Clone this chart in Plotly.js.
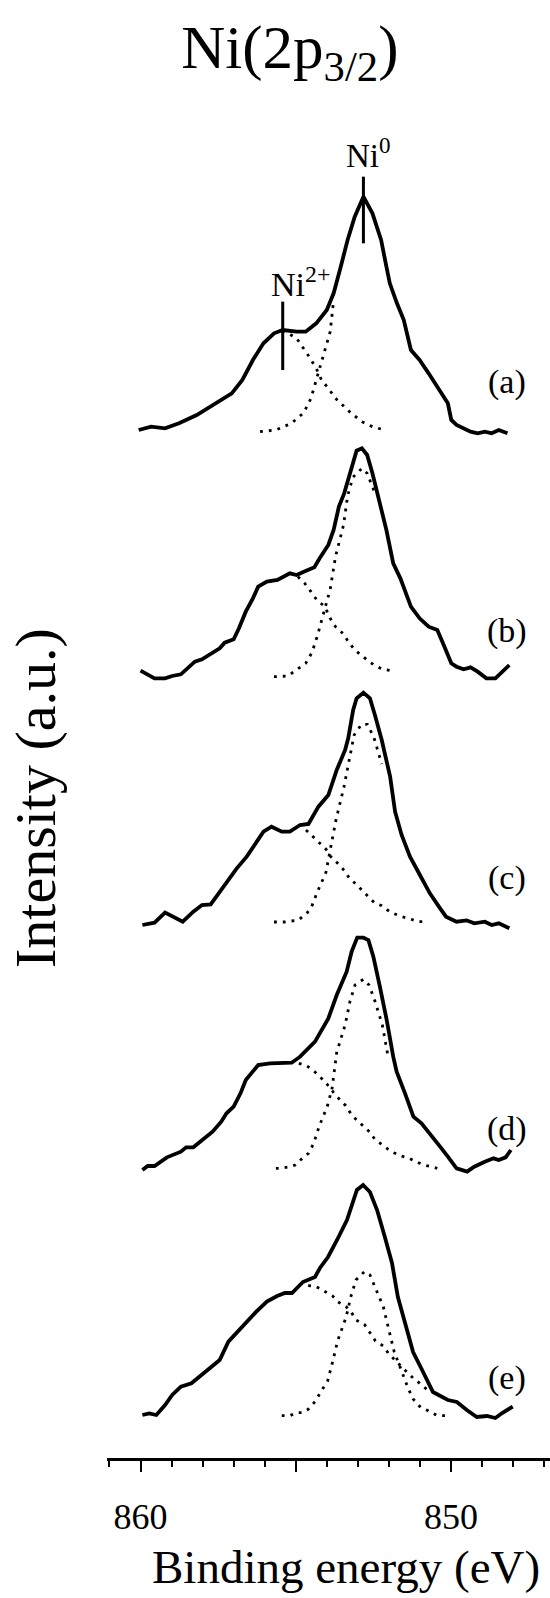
<!DOCTYPE html>
<html>
<head>
<meta charset="utf-8">
<script src="https://cdn.plot.ly/plotly-3.0.1.min.js"></script>
<style>
  html, body { margin: 0; padding: 0; background: #fff; }
  #chart { width: 550px; height: 1598px; }
</style>
</head>
<body>
<div id="chart"></div>
<script>
// Ni 2p3/2 XPS spectra (a)-(e): measured envelope plus the two fitted components.
// Binding energy in eV, intensity in arbitrary units above each spectrum's own baseline.

const panelLabels = ['(a)', '(b)', '(c)', '(d)', '(e)'];
const stackOffsets = [307.4, 233.9, 160.8, 86.4, 12.6];
const labelEnergy = 848.21;
const labelIntensity = [15.5, 14.3, 13.1, 12.2, 11.3];

// (a)
const aEnergy = [860.06,859.66,859.21,858.76,858.19,857.51,857.06,856.72,856.38,856.04,855.70,855.42,854.97,854.68,854.34,854.00,853.78,853.55,853.33,853.10,852.82,852.53,852.25,852.08,851.97,851.74,851.52,851.29,851.01,850.72,850.38,850.10,849.99,849.82,849.37,849.14,848.91,848.69,848.46,848.18];
const aIntensity = [1.0,2.0,1.5,3.0,5.5,9.5,12.0,16.0,22.0,27.0,30.0,31.0,30.5,30.5,33.0,37.0,42.0,50.0,58.0,65.0,71.0,66.0,58.0,50.0,45.0,39.0,34.0,25.0,22.0,18.0,13.0,9.0,4.0,2.5,0.5,0,0.5,0,1.0,0];
const aNi0Energy = [856.15,855.64,855.14,854.74,854.51,854.34,854.12,853.89,853.78];
const aNi0Intensity = [0.5,1.0,3.0,6.2,10.5,16.0,22.5,30.5,40.0];
const aNi2Energy = [855.42,854.97,854.57,854.34,854.17,853.95,853.72,853.50,853.21,852.87,852.53,852.14];
const aNi2Intensity = [31.0,28.5,23.0,19.5,16.0,13.5,10.5,8.5,6.0,3.5,2.0,1.0];

// (b)
const bEnergy = [860.00,859.55,859.21,858.98,858.70,858.53,858.25,858.02,857.74,857.45,857.29,857.00,856.83,856.61,856.38,856.21,855.93,855.59,855.19,854.97,854.74,854.40,854.23,853.95,853.78,853.61,853.44,853.21,853.04,852.87,852.70,852.53,852.31,852.08,851.86,851.63,851.29,851.01,850.72,850.44,850.21,849.99,849.82,849.59,849.37,849.14,848.86,848.57,848.12];
const bIntensity = [2.3,0,0,0.7,1.2,2.5,5.0,5.7,7.2,9.0,10.7,11.7,15.0,20.0,24.0,27.5,29.0,29.5,31.5,31.0,32.0,33.3,36.0,40.0,44.5,51.5,55.5,62.5,68.3,69.0,67.0,61.5,53.0,44.5,34.5,30.0,21.5,18.0,15.5,14.5,9.5,4.5,3.5,2.7,3.3,2.0,0,0,4.0];
const bNi0Energy = [855.70,855.48,855.25,854.91,854.68,854.48,854.31,853.89,853.72,853.46,853.33,853.16,852.87,852.70,852.48];
const bNi0Intensity = [0.5,0.5,0.7,3.0,4.5,7.7,12.5,26.7,36.5,46.0,54.7,60.3,63.0,61.5,56.3];
const bNi2Energy = [854.93,854.71,854.51,854.32,854.06,853.89,853.72,853.46,853.33,853.10,852.70,852.48,852.19,851.91];
const bNi2Intensity = [30.5,28.5,26.0,23.5,21.5,18.0,15.5,13.3,11.3,8.5,5.5,4.0,2.7,2.3];

// (c)
const cEnergy = [859.94,859.55,859.21,858.98,858.64,858.30,858.02,857.74,857.49,857.23,856.90,856.58,856.31,856.04,855.78,855.45,855.19,854.86,854.59,854.27,853.95,853.68,853.41,853.31,853.15,853.04,852.82,852.61,852.45,852.23,851.96,851.80,851.59,851.32,851.00,850.68,850.35,850.16,849.82,849.50,849.25,848.91,848.69,848.46,848.12];
const cIntensity = [-0.9,-0.2,2.8,1.6,0.1,3.1,5.1,5.3,8.6,12.1,16.1,19.6,23.6,27.1,28.6,27.1,27.1,29.1,29.4,34.6,38.1,45.6,51.6,55.1,63.6,67.1,68.8,67.1,62.1,54.6,43.6,33.1,26.1,19.6,14.1,8.6,4.1,1.6,0.1,0.5,-0.4,0.1,-0.9,-0.4,-1.9];
const cNi0Energy = [855.70,855.36,854.91,854.63,854.49,854.30,854.03,853.70,853.45,853.28,853.12,852.88,852.69,852.48,852.23];
const cNi0Intensity = [0,0,0.6,2.8,4.6,9.1,14.8,30.8,40.4,48.8,56.1,59.3,59.3,55.3,47.4];
const cNi2Energy = [854.67,854.47,854.30,854.03,853.87,853.70,853.43,853.27,853.09,852.82,852.64,852.47,852.23,852.05,851.86,851.59,851.37,851.06,850.84];
const cNi2Intensity = [27.6,25.9,24.3,21.9,19.6,18.1,15.4,13.1,11.6,9.1,7.4,5.8,4.9,3.6,2.6,1.6,1.1,0.1,0.1];

// (d)
const dEnergy = [859.94,859.77,859.55,859.15,858.70,858.53,858.30,857.96,857.68,857.40,857.23,857.00,856.78,856.61,856.44,856.21,855.83,855.51,855.13,854.86,854.38,853.95,853.68,853.36,853.20,853.02,852.82,852.66,852.50,852.29,852.07,851.86,851.75,851.48,851.21,850.95,850.68,850.35,850.10,849.82,849.48,849.25,848.91,848.63,848.46,848.24,848.07];
const dIntensity = [0.0,1.2,1.2,3.8,5.5,6.8,6.8,9.5,11.5,14.5,17.0,19.0,23.0,27.0,29.0,31.5,32.0,32.2,32.2,34.0,38.5,45.5,52.5,59.5,65.5,69.7,69.7,69.0,64.0,55.0,45.0,34.0,29.5,23.0,16.0,14.0,11.0,7.0,4.0,0.5,-0.5,1.0,2.5,3.5,3.0,3.8,6.0];
const dNi0Energy = [855.64,855.48,855.19,855.02,854.85,854.59,854.42,854.25,853.98,853.83,853.68,853.41,853.25,853.09,852.82,852.64,852.45,852.21,852.04];
const dNi0Intensity = [0.5,0.5,1.0,1.5,3.0,5.0,8.0,13.0,19.2,24.5,35.3,43.5,50.7,55.5,57.2,55.5,50.7,43.5,34.7];
const dNi2Energy = [854.90,854.65,854.43,854.25,854.00,853.70,853.39,853.22,853.07,852.80,852.63,852.45,852.20,852.02,851.84,851.61,851.35,851.06,850.78,850.44];
const dNi2Intensity = [32.0,31.3,29.8,28.3,25.8,22.3,19.3,16.8,15.3,12.8,11.5,9.2,7.3,6.2,5.2,4.2,3.5,2.2,1.3,0.5];

// (e)
const eEnergy = [859.94,859.72,859.49,859.21,858.98,858.70,858.36,858.08,857.74,857.45,857.17,856.83,856.55,856.27,855.93,855.60,855.35,855.12,854.77,854.38,854.22,853.96,853.67,853.35,853.03,852.83,852.61,852.38,852.13,851.90,851.71,851.48,851.22,850.93,850.58,850.10,849.81,849.49,849.17,848.84,848.57,848.35,848.01];
const eIntensity = [0.3,0.8,0.3,3.3,6.3,8.8,9.8,12.0,14.3,16.8,22.3,25.8,28.3,31.3,34.3,36.0,36.9,36.9,40.2,41.7,44.4,47.7,52.8,58.8,67.8,69.3,67.2,61.8,53.7,45.9,35.7,27.9,19.2,13.8,7.2,4.8,4.2,1.8,-0.3,0.0,-0.6,0.9,2.8];
const eNi0Energy = [855.45,855.19,854.97,854.81,854.60,854.38,854.22,853.97,853.81,853.65,853.38,853.22,853.06,852.79,852.61,852.43,852.18,852.02,851.83,851.57,851.38,851.21,850.98,850.78,850.62,850.44,850.17,850.01];
const eNi0Intensity = [0.1,0.1,1.0,1.0,2.0,4.3,6.8,10.6,16.3,22.6,29.6,36.0,40.8,43.3,42.3,38.3,32.8,26.6,19.3,13.0,8.3,5.0,2.6,1.8,1.0,0.1,0.1,0.1];
const eNi2Energy = [854.60,854.38,854.24,853.97,853.81,853.65,853.38,853.22,853.06,852.79,852.61,852.43,852.18,852.00,851.57,851.38,851.21,850.98,850.78,850.62];
const eNi2Intensity = [39.1,39.0,38.3,36.8,36.0,34.3,32.8,31.3,28.8,27.5,24.8,22.5,21.0,18.6,14.6,12.8,11.3,9.6,8.0,7.3];

// Peak position markers on spectrum (a)
const ni0MarkEnergy = 852.82;
const ni0MarkIntensity = [57, 77];
const ni2MarkEnergy = 855.42;
const ni2MarkIntensity = [19, 39.5];
const ni0LabelPos = [852.65, 84];
const ni2LabelPos = [854.85, 45.5];

// x-axis ticks
const majorTicks = [860, 855, 850];
const majorTickText = ['860', '', '850'];

const spectra = [
  [aEnergy, aIntensity, aNi0Energy, aNi0Intensity, aNi2Energy, aNi2Intensity],
  [bEnergy, bIntensity, bNi0Energy, bNi0Intensity, bNi2Energy, bNi2Intensity],
  [cEnergy, cIntensity, cNi0Energy, cNi0Intensity, cNi2Energy, cNi2Intensity],
  [dEnergy, dIntensity, dNi0Energy, dNi0Intensity, dNi2Energy, dNi2Intensity],
  [eEnergy, eIntensity, eNi0Energy, eNi0Intensity, eNi2Energy, eNi2Intensity]
];

const SERIF = '"Liberation Serif", "Times New Roman", Times, serif';
const shift = (arr, off) => arr.map(v => v + off);

const dotted = { color: '#000', width: 2.8, dash: '2.8px,6px' };
const traces = [];
spectra.forEach((s, k) => {
  const off = stackOffsets[k];
  traces.push({ x: s[2], y: shift(s[3], off), mode: 'lines', hoverinfo: 'skip', line: dotted });
  traces.push({ x: s[4], y: shift(s[5], off), mode: 'lines', hoverinfo: 'skip', line: dotted });
  traces.push({
    x: s[0], y: shift(s[1], off), mode: 'lines', hoverinfo: 'skip',
    line: { color: '#000', width: 3.8 }
  });
});

traces.push({
  x: [ni0MarkEnergy, ni0MarkEnergy], y: shift(ni0MarkIntensity, stackOffsets[0]),
  mode: 'lines', hoverinfo: 'skip', line: { color: '#000', width: 3 }
});
traces.push({
  x: [ni2MarkEnergy, ni2MarkEnergy], y: shift(ni2MarkIntensity, stackOffsets[0]),
  mode: 'lines', hoverinfo: 'skip', line: { color: '#000', width: 3 }
});

const annotations = panelLabels.map((t, k) => ({
  text: t, x: labelEnergy, y: stackOffsets[k] + labelIntensity[k],
  xref: 'x', yref: 'y', showarrow: false, xanchor: 'center', yanchor: 'middle',
  font: { family: SERIF, size: 34, color: '#000' }
}));
annotations.push({
  text: 'Ni<sup>0</sup>', x: ni0LabelPos[0], y: stackOffsets[0] + ni0LabelPos[1],
  xref: 'x', yref: 'y', showarrow: false, xanchor: 'center', yanchor: 'middle',
  font: { family: SERIF, size: 33, color: '#000' }
});
annotations.push({
  text: 'Ni<sup>2+</sup>', x: ni2LabelPos[0], y: stackOffsets[0] + ni2LabelPos[1],
  xref: 'x', yref: 'y', showarrow: false, xanchor: 'center', yanchor: 'middle',
  font: { family: SERIF, size: 34, color: '#000' }
});
annotations.push({
  text: 'Binding energy (eV)', x: 0.5395, y: -0.0818,
  xref: 'paper', yref: 'paper', showarrow: false, xanchor: 'center', yanchor: 'middle',
  font: { family: SERIF, size: 47, color: '#000' }
});
annotations.push({
  text: 'Intensity (a.u.)', x: -0.1625, y: 0.4951, textangle: -90,
  xref: 'paper', yref: 'paper', showarrow: false, xanchor: 'center', yanchor: 'middle',
  font: { family: SERIF, size: 58, color: '#000' }
});

const layout = {
  width: 550, height: 1598,
  margin: { l: 107, r: 0, t: 125, b: 140 },
  paper_bgcolor: '#fff', plot_bgcolor: '#fff',
  showlegend: false,
  title: {
    text: 'Ni(2p<sub>3/2</sub>)',
    font: { family: SERIF, size: 61, color: '#000' },
    xref: 'container', yref: 'container',
    x: 0.527, xanchor: 'center', y: 0.9706, yanchor: 'middle'
  },
  xaxis: {
    range: [861.08, 846.81],
    showgrid: false, zeroline: false,
    showline: true, linecolor: '#000', linewidth: 2.5,
    tickmode: 'array', tickvals: majorTicks, ticktext: majorTickText,
    ticks: 'outside', ticklen: 11, tickwidth: 2, tickcolor: '#000',
    ticklabelstandoff: 14,
    tickfont: { family: SERIF, size: 36, color: '#000' },
    minor: { tickmode: 'linear', tick0: 848, dtick: 1, ticks: 'outside', ticklen: 6, tickwidth: 2, tickcolor: '#000', showgrid: false }
  },
  yaxis: {
    range: [0, 399.9],
    visible: false, showgrid: false, zeroline: false, fixedrange: true
  },
  annotations: annotations
};

Plotly.newPlot('chart', traces, layout, { staticPlot: true, displayModeBar: false });
</script>
</body>
</html>
